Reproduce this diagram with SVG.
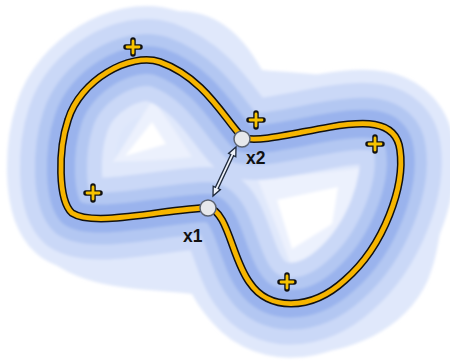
<svg xmlns="http://www.w3.org/2000/svg" width="450" height="361" viewBox="0 0 450 361">
  <defs>
    <path id="curve" d="M243,138 C225,120 205,78 160,62 C130,52 80,80 68,120 C58,150 58,200 72,213 C95,228 170,208 208,208 C228,210 232,260 250,283 C268,310 310,312 345,280 C385,245 405,185 400,150 C396,118 360,122 330,127 C290,134 260,142 243,138 Z"/>
    <filter id="soft" filterUnits="userSpaceOnUse" x="0" y="0" width="450" height="361">
      <feGaussianBlur stdDeviation="1.6"/>
    </filter>
  </defs>
  <style>
    .band { fill: none; stroke-linejoin: round; }
    .plus { fill: none; stroke-linecap: round; }
    .lbl { font-family: "Liberation Sans", Arial, sans-serif; font-weight: bold; font-size: 17.5px; fill: #111111; }
    .node { fill: #e6e8ec; stroke: #5b6372; stroke-width: 1.5; }
  </style>
  <rect width="450" height="361" fill="#ffffff"/>
  <g id="field" filter="url(#soft)">
    <path d="M10,170 C12,95 90,22 168,12 C218,6 245,40 262,70 C300,74 360,72 408,102 C448,132 450,228 428,280 C404,334 340,358 282,354 C232,350 206,320 192,294 C150,288 92,292 52,262 C22,240 9,205 10,170 Z" fill="#e0e8fb"/>
    <use href="#curve" fill="#dde6fb" stroke="#e0e8fb" stroke-width="108" stroke-linejoin="round"/>
    <path d="M113,162 C128,140 140,118 153,100 C168,120 180,138 192,157 C165,160 140,161 113,162 Z" fill="#ecf1fd"/>
    <path d="M125,156 L152,122 L166,144 Z" fill="#ffffff"/>
    <path d="M258,180 C290,176 330,172 362,168 C360,195 355,220 348,245 C330,252 310,260 292,268 C282,240 270,210 258,180 Z" fill="#ecf1fd"/>
    <path d="M277,200 L338,187 C336,200 334,212 332,224 L292,249 Z" fill="#ffffff"/>
    <use href="#curve" class="band" stroke="#cad8f7" stroke-width="82"/>
    <use href="#curve" class="band" stroke="#b3c7f2" stroke-width="52"/>
    <use href="#curve" class="band" stroke="#9ab3ed" stroke-width="28"/>
  </g>
  <g id="loop">
    <use href="#curve" class="band" stroke="#111111" stroke-width="7.8"/>
    <use href="#curve" class="band" stroke="#f6b500" stroke-width="4.8"/>
  </g>
  <g id="pluses">
    <g id="p1" transform="translate(133,47)">
      <path class="plus" d="M-7,0 H7 M0,-7 V7" stroke="#111111" stroke-width="5.5"/>
      <path class="plus" d="M-6,0 H6 M0,-6 V6" stroke="#f6c200" stroke-width="2.8"/>
    </g>
    <g id="p2" transform="translate(256,120)">
      <path class="plus" d="M-7,0 H7 M0,-7 V7" stroke="#111111" stroke-width="5.5"/>
      <path class="plus" d="M-6,0 H6 M0,-6 V6" stroke="#f6c200" stroke-width="2.8"/>
    </g>
    <g id="p3" transform="translate(375,144)">
      <path class="plus" d="M-7,0 H7 M0,-7 V7" stroke="#111111" stroke-width="5.5"/>
      <path class="plus" d="M-6,0 H6 M0,-6 V6" stroke="#f6c200" stroke-width="2.8"/>
    </g>
    <g id="p4" transform="translate(93,193)">
      <path class="plus" d="M-7,0 H7 M0,-7 V7" stroke="#111111" stroke-width="5.5"/>
      <path class="plus" d="M-6,0 H6 M0,-6 V6" stroke="#f6c200" stroke-width="2.8"/>
    </g>
    <g id="p5" transform="translate(287,282)">
      <path class="plus" d="M-7,0 H7 M0,-7 V7" stroke="#111111" stroke-width="5.5"/>
      <path class="plus" d="M-6,0 H6 M0,-6 V6" stroke="#f6c200" stroke-width="2.8"/>
    </g>
  </g>
  <g id="connectors">
    <polygon points="236,147 235.8,156.8 233.6,155.7 218.2,188.5 220.4,189.6 213,196 213.2,186.2 215.4,187.3 230.8,154.5 228.6,153.4" fill="#eef2fa" stroke="#1f2a3c" stroke-width="1.3" stroke-linejoin="miter"/>
  </g>
  <g id="x2">
    <circle class="node" cx="242" cy="139" r="8"/>
    <text class="lbl" x="246" y="164">x2</text>
  </g>
  <g id="x1">
    <circle class="node" cx="208" cy="208" r="8"/>
    <text class="lbl" x="183" y="242">x1</text>
  </g>
</svg>
